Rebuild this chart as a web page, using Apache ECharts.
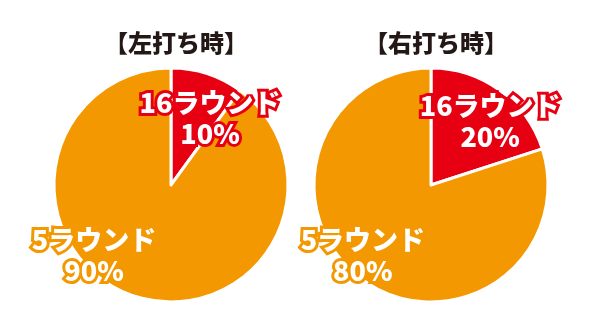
<!DOCTYPE html>
<html><head><meta charset="utf-8">
<script src="https://cdn.jsdelivr.net/npm/echarts@6/dist/echarts.min.js"></script>
<style>html,body{margin:0;padding:0;background:#fff}#c{width:592px;height:328px}</style>
</head><body><div id="c"></div>
<script>
const titles = ['【左打ち時】', '【右打ち時】'];
const categories = ['16ラウンド', '5ラウンド'];
const leftValues = [10, 90];
const rightValues = [20, 80];
const colors = ['#E60012', '#F39800'];
const centers = [[171, 185], [431, 185]];
const labelShift = [
  [[20, -8], [-58, 12]],
  [[23, -14], [-32, 20]]
];
const font = '"Noto Sans CJK JP", sans-serif';
const chart = echarts.init(document.getElementById('c'), null, {renderer: 'canvas'});
function mkSeries(vals, i) {
  return {
    type: 'pie',
    center: centers[i],
    radius: 117,
    startAngle: 90,
    clockwise: true,
    silent: true,
    animation: false,
    itemStyle: {borderColor: '#fff', borderWidth: 3},
    label: {
      show: true,
      position: 'inside',
      formatter: p => p.name + '\n' + p.value + '%',
      color: '#fff',
      fontFamily: font,
      fontWeight: 900,
      fontSize: 27,
      lineHeight: 31,
      align: 'center',
      textBorderWidth: 6,
    },
    labelLayout: p => ({dx: labelShift[i][p.dataIndex][0], dy: labelShift[i][p.dataIndex][1]}),
    data: vals.map((v, k) => ({
      name: categories[k], value: v,
      itemStyle: {color: colors[k]},
      label: {textBorderColor: colors[k]}
    }))
  };
}
chart.setOption({
  animation: false,
  title: titles.map((t, i) => ({
    text: t, left: centers[i][0], top: 26, textAlign: 'center',
    textStyle: {fontFamily: font, fontWeight: 900, fontSize: 24, color: '#231815'}
  })),
  series: [mkSeries(leftValues, 0), mkSeries(rightValues, 1)]
});
</script></body></html>
